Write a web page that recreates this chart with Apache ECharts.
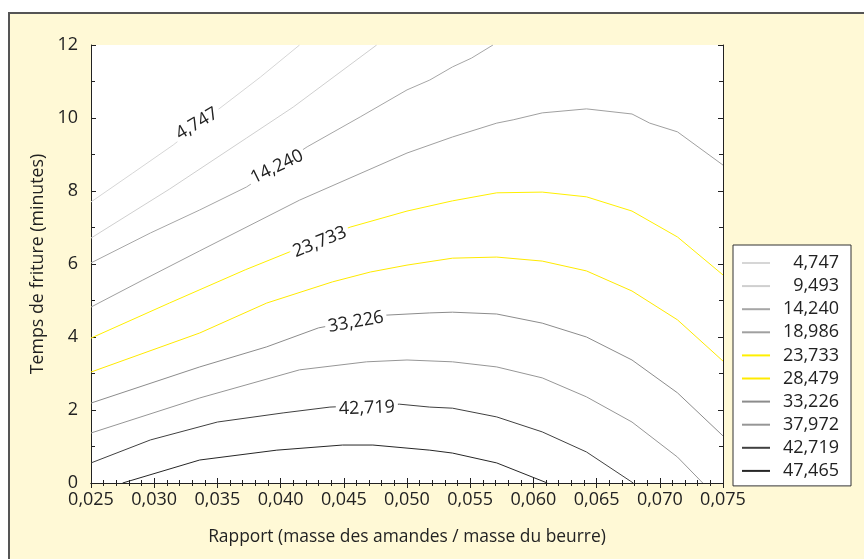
<!DOCTYPE html>
<html>
<head>
<meta charset="utf-8">
<script src="https://cdn.jsdelivr.net/npm/echarts@6/dist/echarts.min.js"></script>
<style>
  html, body { margin: 0; padding: 0; background: #fff; }
  #chart { width: 864px; height: 559px; }
</style>
</head>
<body>
<div id="chart"></div>
<script>
// contour levels (legend order)
const levels = ['4,747', '9,493', '14,240', '18,986', '23,733', '28,479', '33,226', '37,972', '42,719', '47,465'];
const colors = ['#d6d6d6', '#cfcfcf', '#a6a6a6', '#a0a0a0', '#fff000', '#ffea00', '#8c8c8c', '#969696', '#404040', '#262626'];

// contour lines [ratio, minutes]
const c4747 = [[0.025, 7.70], [0.0283, 8.49], [0.0315, 9.26], [0.0352, 10.27], [0.0384, 11.12], [0.0415, 12.0]];
const c9493 = [[0.025, 6.71], [0.0312, 8.05], [0.0373, 9.45], [0.0410, 10.30], [0.0443, 11.15], [0.0476, 12.0]];
const c14240 = [[0.025, 6.03], [0.0297, 6.85], [0.0336, 7.48], [0.0373, 8.11], [0.0421, 9.21], [0.0463, 10.03],
  [0.0500, 10.77], [0.0518, 11.04], [0.0536, 11.40], [0.0551, 11.64], [0.0568, 12.0]];
const c18986 = [[0.025, 4.82], [0.0291, 5.56], [0.0336, 6.36], [0.0415, 7.75], [0.0500, 9.04], [0.0536, 9.48],
  [0.0571, 9.86], [0.0584, 9.95], [0.0607, 10.14], [0.0642, 10.25], [0.0678, 10.11], [0.0692, 9.86],
  [0.0714, 9.62], [0.075, 8.71]];
const c23733 = [[0.025, 3.97], [0.0312, 4.93], [0.0372, 5.84], [0.0407, 6.33], [0.0455, 7.01], [0.0500, 7.45],
  [0.0536, 7.73], [0.0571, 7.95], [0.0607, 7.97], [0.0642, 7.84], [0.0678, 7.45], [0.0714, 6.74], [0.075, 5.70]];
const c28479 = [[0.025, 3.04], [0.0336, 4.11], [0.0389, 4.93], [0.0441, 5.51], [0.0471, 5.78], [0.0500, 5.97],
  [0.0536, 6.16], [0.0571, 6.19], [0.0607, 6.08], [0.0642, 5.81], [0.0678, 5.26], [0.0714, 4.47], [0.075, 3.34]];
const c33226 = [[0.025, 2.19], [0.0336, 3.18], [0.0389, 3.73], [0.0430, 4.25], [0.0484, 4.60], [0.0518, 4.66],
  [0.0536, 4.68], [0.0571, 4.63], [0.0607, 4.38], [0.0642, 4.00], [0.0678, 3.37], [0.0714, 2.47], [0.075, 1.29]];
const c37972 = [[0.025, 1.37], [0.0336, 2.33], [0.0415, 3.10], [0.0468, 3.32], [0.0500, 3.37], [0.0536, 3.32],
  [0.0571, 3.18], [0.0607, 2.88], [0.0642, 2.36], [0.0678, 1.67], [0.0714, 0.71], [0.0734, 0]];
const c42719 = [[0.025, 0.55], [0.0297, 1.18], [0.0350, 1.67], [0.0402, 1.92], [0.0439, 2.08], [0.0494, 2.16],
  [0.0518, 2.08], [0.0536, 2.05], [0.0571, 1.81], [0.0607, 1.40], [0.0642, 0.85], [0.0679, 0]];
const c47465 = [[0.0275, 0], [0.0336, 0.63], [0.0397, 0.90], [0.0449, 1.04], [0.0473, 1.04], [0.0518, 0.90],
  [0.0536, 0.82], [0.0571, 0.55], [0.0611, 0]];
const contours = [c4747, c9493, c14240, c18986, c23733, c28479, c33226, c37972, c42719, c47465];

// inline labels: [level index, ratio, minutes, angle]
const inlineLabels = [[0, 0.03339, 9.84, 31], [2, 0.03971, 8.66, 26], [4, 0.04311, 6.60, 22],
  [6, 0.04596, 4.41, 10], [8, 0.04683, 2.05, 2]];

const font = '"Open Sans", sans-serif';
const ink = '#222';
const comma = (v, d) => v.toFixed(d).replace('.', ',');

const chart = echarts.init(document.getElementById('chart'));

const series = contours.map((pts, i) => {
  const lab = inlineLabels.filter(l => l[0] === i);
  return {
    name: levels[i],
    type: 'line',
    data: pts,
    symbol: 'none',
    silent: true,
    lineStyle: { color: colors[i], width: 1 },
    itemStyle: { color: colors[i] },
    markPoint: lab.length ? {
      symbol: 'circle',
      symbolSize: 0,
      silent: true,
      data: lab.map(l => ({ coord: [l[1], l[2]] })),
      label: {
        show: true,
        position: 'inside',
        formatter: levels[i],
        rotate: lab[0][3],
        color: ink,
        fontFamily: font,
        fontSize: 18,
        backgroundColor: '#fff',
        padding: [0, 3]
      }
    } : undefined
  };
});

const tickStyle = { color: ink };

chart.setOption({
  backgroundColor: '#fff',
  animation: false,
  graphic: [{
    type: 'rect',
    z: -10,
    shape: { x: 9, y: 13, width: 900, height: 600 },
    style: { fill: '#fff9d6', stroke: '#555', lineWidth: 2 }
  }],
  grid: { left: 91, top: 45, right: 141, bottom: 76, show: true, backgroundColor: '#fff', borderWidth: 0 },
  legend: {
    orient: 'vertical',
    left: 733,
    top: 245,
    padding: [9, 12, 6, 8],
    backgroundColor: '#fff',
    borderColor: '#333',
    borderWidth: 1,
    itemWidth: 28,
    itemHeight: 14,
    itemGap: 5.1,
    itemStyle: { opacity: 0 },
    data: levels,
    formatter: name => '{v|' + name + '}',
    textStyle: {
      fontFamily: font, fontSize: 18, color: ink, lineHeight: 18,
      rich: { v: { width: 64, align: 'right', fontFamily: font, fontSize: 18, color: ink, lineHeight: 18 } }
    }
  },
  xAxis: [{
    type: 'value',
    min: 0.025,
    max: 0.075,
    interval: 0.005,
    name: 'Rapport (masse des amandes / masse du beurre)',
    nameLocation: 'middle',
    nameGap: 46,
    nameTextStyle: { fontFamily: font, fontSize: 17.4, color: ink },
    axisLine: { lineStyle: { color: ink, width: 1 } },
    axisTick: { inside: true, length: 5, lineStyle: tickStyle },
    minorTick: { show: true, splitNumber: 5, length: 3, lineStyle: tickStyle },
    splitLine: { show: false },
    axisLabel: { margin: 8, fontFamily: font, fontSize: 18, color: ink, formatter: v => comma(v, 3) }
  }, {
    type: 'value',
    position: 'top',
    min: 0.025,
    max: 0.075,
    interval: 0.005,
    axisLine: { lineStyle: { color: ink, width: 1 } },
    axisTick: { inside: true, length: 5, lineStyle: tickStyle },
    minorTick: { show: true, splitNumber: 5, length: 3, lineStyle: tickStyle },
    splitLine: { show: false },
    axisLabel: { show: false }
  }],
  yAxis: [{
    type: 'value',
    min: 0,
    max: 12,
    interval: 2,
    name: 'Temps de friture (minutes)',
    nameLocation: 'middle',
    nameGap: 40,
    nameTextStyle: { fontFamily: font, fontSize: 17.8, color: ink },
    axisLine: { show: true, lineStyle: { color: ink, width: 1 } },
    axisTick: { show: true, inside: true, length: 5, lineStyle: tickStyle },
    minorTick: { show: true, splitNumber: 2, length: 4, lineStyle: tickStyle },
    splitLine: { show: false },
    axisLabel: { margin: 13, fontFamily: font, fontSize: 18, color: ink }
  }, {
    type: 'value',
    position: 'right',
    min: 0,
    max: 12,
    interval: 2,
    axisLine: { show: true, lineStyle: { color: ink, width: 1 } },
    axisTick: { show: true, inside: true, length: 5, lineStyle: tickStyle },
    minorTick: { show: true, splitNumber: 2, length: 4, lineStyle: tickStyle },
    splitLine: { show: false },
    axisLabel: { show: false }
  }],
  series: series
});
</script>
</body>
</html>
